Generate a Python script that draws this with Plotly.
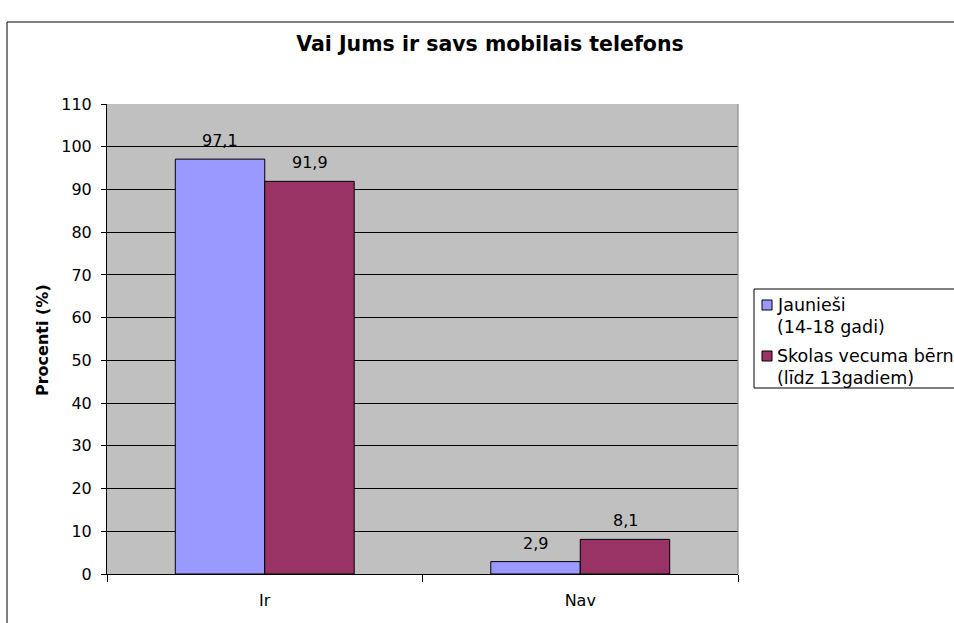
import plotly.graph_objects as go

# Survey answers: "Do you have your own mobile phone?"
categories = ["Ir", "Nav"]
series_lines = [["Jaunieši", "(14-18 gadi)"], ["Skolas vecuma bērni", "(līdz 13gadiem)"]]
youth_values = [97.1, 2.9]
children_values = [91.9, 8.1]
series_colors = ["#9999FF", "#993366"]
y_ticks = [0, 10, 20, 30, 40, 50, 60, 70, 80, 90, 100, 110]

title_text = "Vai Jums ir savs mobilais telefons"
y_title = "Procenti (%)"

FONT = "DejaVu Sans, Verdana, sans-serif"
WIDTH, HEIGHT = 954, 623

# plot area in pixels
L, R, T, B = 107, 738, 104, 574
PW, PH = R - L, B - T

BAR_PX = 89.5          # width of a single bar in pixels
LABEL_LIFT = 18.5      # distance from bar top to the centre of its value label


def px_x(p):
    return (p - L) / PW


def px_y(p):
    return (B - p) / PH


fig = go.Figure()
all_series = [youth_values, children_values]
for vals, lines, color in zip(all_series, series_lines, series_colors):
    fig.add_trace(go.Bar(
        x=categories,
        y=vals,
        name=" ".join(lines),
        marker=dict(color=color, line=dict(color="#000000", width=1)),
        showlegend=False,
    ))

annotations = []
# value labels above each bar
offsets = [-BAR_PX / 2, BAR_PX / 2]
for vals, dx in zip(all_series, offsets):
    for cat, v in zip(categories, vals):
        annotations.append(dict(
            text=f"{v:.1f}".replace(".", ","), x=cat, y=v, xref="x", yref="y",
            xshift=dx, yshift=LABEL_LIFT, showarrow=False,
            xanchor="center", yanchor="middle",
            font=dict(family=FONT, size=16, color="#000000")))

shapes = [
    # outer chart frame
    dict(type="rect", xref="paper", yref="paper",
         x0=px_x(7), x1=px_x(980), y0=px_y(640), y1=px_y(22),
         line=dict(color="#000000", width=1), fillcolor="rgba(0,0,0,0)", layer="above"),
    # right border of the plot area
    dict(type="line", xref="paper", yref="paper",
         x0=1, x1=1, y0=0, y1=1, line=dict(color="#808080", width=1)),
    # legend box
    dict(type="rect", xref="paper", yref="paper",
         x0=px_x(754), x1=px_x(990), y0=px_y(388), y1=px_y(289),
         line=dict(color="#000000", width=1), fillcolor="#FFFFFF"),
]

annotations.append(dict(
    text=f"<b>{y_title}</b>", xref="paper", yref="paper",
    x=px_x(42), y=px_y(340), textangle=-90, showarrow=False,
    xanchor="center", yanchor="middle",
    font=dict(family=FONT, size=16, color="#000000")))

row_y = [[305, 327], [356, 378]]
for lines, color, ys in zip(series_lines, series_colors, row_y):
    shapes.append(dict(type="rect", xref="paper", yref="paper",
                       x0=px_x(762), x1=px_x(772), y0=px_y(ys[0] + 5), y1=px_y(ys[0] - 5),
                       line=dict(color="#000000", width=1), fillcolor=color))
    for line_text, yy in zip(lines, ys):
        annotations.append(dict(text=line_text, xref="paper", yref="paper",
                                x=px_x(775), y=px_y(yy), showarrow=False,
                                xanchor="left", yanchor="middle",
                                font=dict(family=FONT, size=17.5, color="#000000")))

fig.update_layout(
    width=WIDTH,
    height=HEIGHT,
    margin=dict(l=L, r=WIDTH - R, t=T, b=HEIGHT - B),
    paper_bgcolor="#FFFFFF",
    plot_bgcolor="#C0C0C0",
    barmode="group",
    bargap=0.433,
    bargroupgap=0,
    title=dict(text=f"<b>{title_text}</b>", x=px_x(490), xref="paper", xanchor="center",
               y=1 - 44 / HEIGHT, yref="container", yanchor="middle",
               font=dict(family=FONT, size=20.5, color="#000000")),
    xaxis=dict(
        showline=True, linecolor="#000000", linewidth=1,
        ticks="outside", tickson="boundaries", ticklen=7, tickcolor="#000000",
        ticklabelstandoff=12,
        showgrid=False,
        tickfont=dict(family=FONT, size=16, color="#000000"),
    ),
    yaxis=dict(
        range=[0, 110], tickvals=y_ticks,
        showline=True, linecolor="#000000", linewidth=1,
        ticks="outside", ticklen=5, tickcolor="#000000",
        ticklabelstandoff=6,
        showgrid=True, gridcolor="#000000", gridwidth=1,
        zeroline=False,
        tickfont=dict(family=FONT, size=16, color="#000000"),
    ),
    shapes=shapes,
    annotations=annotations,
    font=dict(family=FONT, color="#000000"),
)

fig.write_html("out.html")
